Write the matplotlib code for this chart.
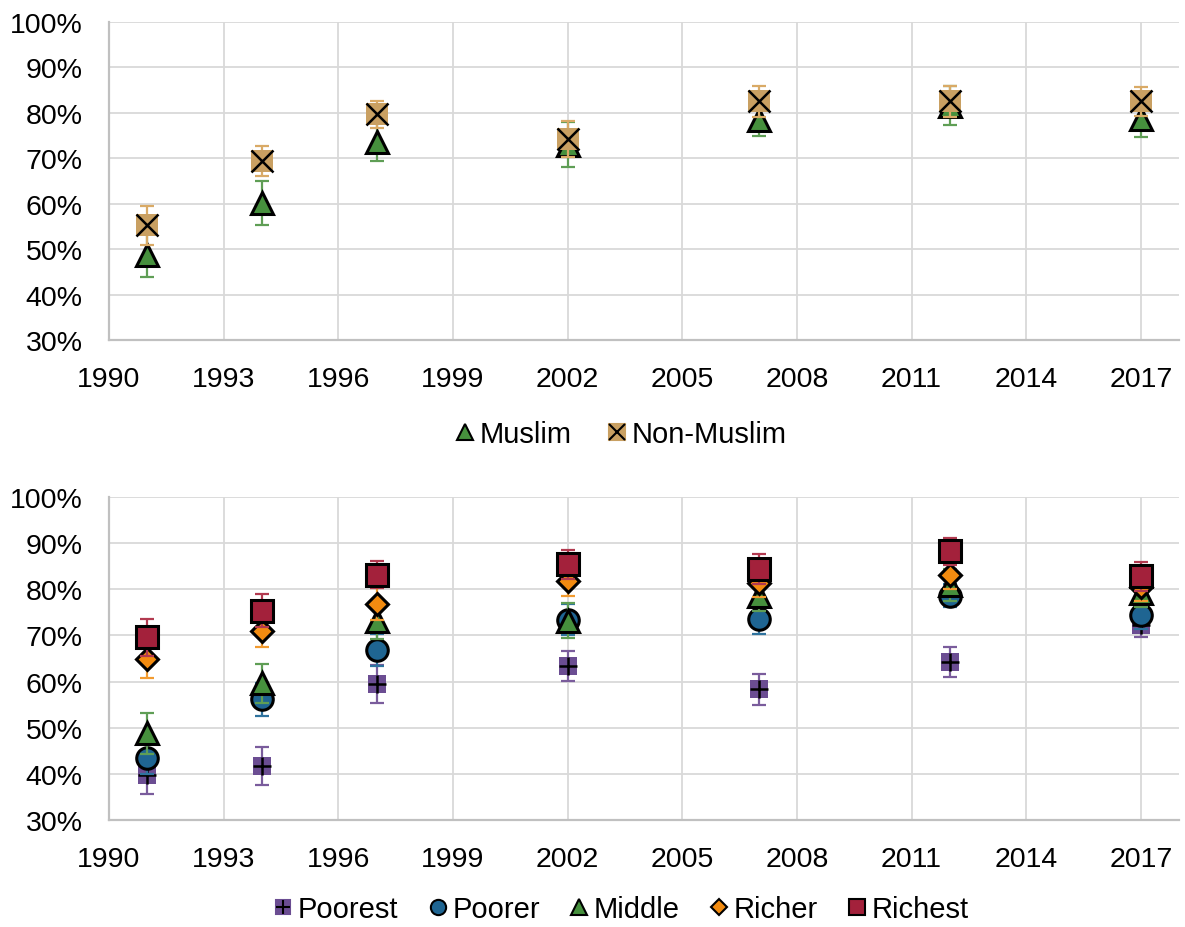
import matplotlib
matplotlib.use('Agg')
import matplotlib.pyplot as plt
from matplotlib.lines import Line2D
from matplotlib.ticker import FuncFormatter
import numpy as np

plt.rcParams['font.family'] = ['Liberation Sans', 'DejaVu Sans']

years = [1991, 1994, 1997, 2002, 2007, 2012, 2017]
xticks = list(range(1990, 2018, 3))

# top panel: religion
muslim = [48.8, 60.2, 73.6, 73.0, 78.4, 81.6, 78.6]
muslim_err = [5.0, 4.8, 4.2, 5.0, 3.4, 4.3, 3.8]
nonmuslim = [55.3, 69.3, 79.7, 74.3, 82.6, 82.6, 82.6]
nonmuslim_err = [4.3, 3.3, 3.0, 4.0, 3.4, 3.4, 3.2]

# bottom panel: wealth quintiles
poorest = [39.8, 41.7, 59.5, 63.4, 58.3, 64.2, 72.2]
poorest_err = [4.1, 4.1, 4.2, 3.2, 3.4, 3.2, 2.5]
poorer = [43.4, 56.2, 66.9, 73.4, 73.6, 78.6, 74.5]
poorer_err = [3.5, 3.6, 3.5, 3.4, 3.3, 2.5, 3.0]
middle = [48.8, 59.6, 73.2, 73.2, 78.6, 81.0, 79.3]
middle_err = [4.4, 4.3, 4.0, 3.8, 3.4, 3.5, 3.2]
richer = [64.8, 71.0, 76.8, 81.8, 81.3, 83.0, 80.5]
richer_err = [4.0, 3.4, 3.5, 3.3, 3.0, 3.0, 3.0]
richest = [69.6, 75.4, 83.2, 85.4, 84.4, 88.2, 82.8]
richest_err = [4.0, 3.6, 3.0, 3.2, 3.3, 3.0, 3.2]

GREEN = '#46903d'
TAN = '#c9a062'
PURPLE = '#6b4d92'
BLUE = '#1f6592'
ORANGE = '#f28b10'
RED = '#a3213b'

fig = plt.figure(figsize=(11.85, 9.28), dpi=100)
ax1 = fig.add_axes([0.092, 0.6325, 0.903, 0.3427])
ax2 = fig.add_axes([0.092, 0.1153, 0.903, 0.348])


def style(ax):
    ax.set_xlim(1990, 2018)
    ax.set_ylim(30, 100)
    ax.set_xticks(xticks)
    ax.set_yticks(range(30, 101, 10))
    ax.yaxis.set_major_formatter(FuncFormatter(lambda v, p: '%d%%' % v))
    ax.grid(True, color='#d9d9d9', linewidth=1.3)
    ax.set_axisbelow(True)
    for s in ['top', 'right']:
        ax.spines[s].set_visible(False)
    for s in ['left', 'bottom']:
        ax.spines[s].set_color('#c0c0c0')
        ax.spines[s].set_linewidth(1.6)
    ax.tick_params(axis='both', length=0, labelsize=20.5, colors='black')
    ax.tick_params(axis='y', pad=19)
    ax.tick_params(axis='x', pad=19)


def series(ax, y, err, color, ecolor, marker, ms, z, overlay=None):
    ax.errorbar(years, y, yerr=err, fmt='none', ecolor=ecolor, elinewidth=1.6,
                capsize=5, capthick=1.6, zorder=z)
    if overlay is None:
        ax.plot(years, y, linestyle='none', marker=marker, markersize=ms,
                markerfacecolor=color, markeredgecolor='black', markeredgewidth=2.2, zorder=z + 0.5)
    else:
        ax.plot(years, y, linestyle='none', marker='s', markersize=ms,
                markerfacecolor=color, markeredgecolor=color, markeredgewidth=0, zorder=z + 0.5)
        ax.plot(years, y, linestyle='none', marker=overlay, markersize=ms,
                markeredgecolor='black', markeredgewidth=1.8, zorder=z + 0.6)


style(ax1)
series(ax1, muslim, muslim_err, GREEN, '#5f9e55', '^', 15.5, 3)
series(ax1, nonmuslim, nonmuslim_err, TAN, '#d9aa66', None, 16, 4, overlay='x')

style(ax2)
series(ax2, poorest, poorest_err, PURPLE, '#7a5c9c', None, 13.5, 3, overlay='+')
series(ax2, poorer, poorer_err, BLUE, '#2f739e', 'o', 15.5, 4)
series(ax2, middle, middle_err, GREEN, '#5f9e55', '^', 15.5, 5)
series(ax2, richer, richer_err, ORANGE, '#f29b30', 'D', 11.5, 6)
series(ax2, richest, richest_err, RED, '#b23a50', 's', 15.5, 7)


def h(marker, color, ms, edge='black'):
    return Line2D([], [], linestyle='none', marker=marker, markersize=ms,
                  markerfacecolor=color, markeredgecolor=edge, markeredgewidth=1.5)


top_handles = [h('^', GREEN, 11),
               (h('s', TAN, 11, TAN), Line2D([], [], linestyle='none', marker='x', markersize=11,
                                            markeredgecolor='black', markeredgewidth=1.5))]
fig.legend(top_handles, ['Muslim', 'Non-Muslim'], loc='center', bbox_to_anchor=(0.524, 0.531),
           ncol=2, frameon=False, fontsize=21, handlelength=0.7, handletextpad=0.15, columnspacing=1.2)

bot_handles = [(h('s', PURPLE, 10, PURPLE), Line2D([], [], linestyle='none', marker='+', markersize=10,
                                                   markeredgecolor='black', markeredgewidth=1.5)),
               h('o', BLUE, 11), h('^', GREEN, 11), h('D', ORANGE, 8), h('s', RED, 11)]
fig.legend(bot_handles, ['Poorest', 'Poorer', 'Middle', 'Richer', 'Richest'], loc='center',
           bbox_to_anchor=(0.524, 0.019), ncol=5, frameon=False, fontsize=21,
           handlelength=0.7, handletextpad=0.15, columnspacing=1.0)

fig.savefig('out.png', dpi=100)
